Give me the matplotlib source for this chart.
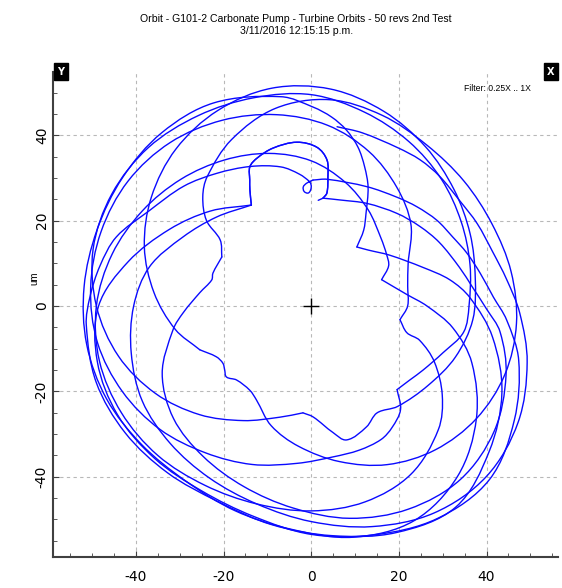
import numpy as np
import matplotlib
matplotlib.use('Agg')
import matplotlib.pyplot as plt
from matplotlib.path import Path
from matplotlib.patches import PathPatch
from matplotlib.ticker import MultipleLocator

plt.rcParams['font.family'] = ['DejaVu Sans']
plt.rcParams['axes.unicode_minus'] = False

# orbit trace, one revolution per list (clockwise),
# each point is (angle in degrees, radius in um)
rev_00 = [(82, 42.4), (74, 42.2), (62, 42.0), (54, 42.3), (46, 42.2), (36, 41.9), (27, 42.5),
          (17, 43.3), (8, 45.0), (-2, 47.6), (-15, 51.0), (-30, 54.5), (-45, 56.5), (-60, 56.0),
          (-75, 53.5), (-90, 50.5), (-105, 48.0), (-120, 46.5), (-135, 45.5), (-150, 44.5),
          (-165, 42.5), (-180, 40.5), (-194, 38.0), (-209, 33.4), (-224, 30.0), (-240, 27.3)]
bump = [(-240, 27.3), (-242.8, 30.6), (-244.6, 32.7), (-246.8, 35.5), (-250.5, 36.8),
        (-256.8, 38.0), (-265.1, 38.5), (-272, 37.2), (-276, 34.4), (-277.2, 30.4),
        (-277.7, 26.7), (-276.1, 25.4)]
rev_01 = [(-276.1, 25.4), (-285, 25.7), (-298, 27.2), (-312, 29.2), (-323, 31.0), (-333, 32.8),
          (-345, 35.0), (-353, 37.0), (-361, 40.0), (-368, 43.5), (-380, 47.3), (-395, 51.0),
          (-410, 53.0), (-425, 52.5), (-440, 50.5), (-455, 47.5), (-470, 45.0), (-485, 43.0),
          (-500, 41.0), (-515, 37.5), (-530, 32.0), (-537, 29.2), (-547, 25.6), (-555, 23.5),
          (-559, 23.7), (-569.4, 23.4)]
rev_02 = [(-569.4, 23.4), (-576.7, 25.9), (-580, 31.2), (-586, 35.6), (-592, 38.5), (-605, 43.0),
          (-620, 47.0), (-635, 48.5), (-650, 47.5), (-665, 46.0), (-680, 45.5), (-695, 45.5),
          (-710, 46.3), (-725, 47.0), (-740, 47.0), (-755, 46.0), (-770, 44.0), (-785, 41.0),
          (-800, 37.0), (-815, 33.0), (-828, 29.5), (-839.6, 25.3), (-845.4, 24.2),
          (-854.5, 24.3), (-859.3, 25.5), (-862.7, 24.8), (-866.3, 24.2), (-871.2, 24.7),
          (-878, 27.4)]
rev_03 = [(-878, 27.4), (-890, 31.5), (-905, 36.0), (-920, 40.5), (-935, 44.5), (-950, 48.0),
          (-965, 50.5), (-980, 51.8), (-995, 51.0), (-1010, 48.5), (-1025, 45.5), (-1040, 42.5),
          (-1055, 40.0), (-1070, 38.0), (-1085, 37.0), (-1100, 35.0), (-1115, 32.5),
          (-1130, 30.7), (-1139, 29.2), (-1146, 31.0), (-1155.5, 32.4), (-1160.4, 30.1),
          (-1169, 26.0), (-1174.3, 25.1)]
rev_04 = [(-1174.3, 25.1), (-1185.3, 27.0), (-1200, 31.0), (-1215, 36.0), (-1230, 41.0),
          (-1245, 45.5), (-1260, 49.0), (-1275, 51.5), (-1290, 52.5), (-1305, 52.5),
          (-1320, 51.5), (-1335, 50.5), (-1350, 49.5), (-1365, 47.0), (-1380, 44.5),
          (-1395, 42.0), (-1410, 39.5), (-1425, 37.5), (-1440, 36.0), (-1450, 35.3),
          (-1460, 32.0), (-1470.5, 29.6), (-1477.6, 28.4), (-1485, 27.7)]
rev_05 = [(-1485, 27.7), (-1490, 31.7), (-1497, 33.9), (-1503, 35.1), (-1512, 35.5),
          (-1522, 35.7), (-1535, 37.0), (-1550, 39.5), (-1565, 42.0), (-1580, 45.0),
          (-1595, 47.5), (-1610, 49.5), (-1625, 50.5), (-1640, 51.0), (-1655, 51.0),
          (-1670, 50.0), (-1685, 48.0), (-1700, 45.5), (-1715, 42.5), (-1730, 38.5),
          (-1745, 34.0), (-1760, 29.7), (-1776, 24.2), (-1788, 22.5), (-1800, 22.0),
          (-1809, 20.5)]
rev_06 = [(-1809, 20.5), (-1816, 22.7), (-1818, 26.0), (-1825, 31.0), (-1835, 36.5),
          (-1845, 41.0), (-1860, 45.5), (-1875, 47.5), (-1890, 48.0), (-1905, 48.0),
          (-1920, 48.5), (-1935, 49.5), (-1950, 50.0), (-1965, 50.0), (-1980, 49.0),
          (-1995, 47.0), (-2010, 44.5), (-2025, 42.0), (-2040, 39.5), (-2055, 37.0),
          (-2070, 34.0), (-2085, 30.0), (-2100, 26.0), (-2115, 22.5), (-2125, 21.0),
          (-2132, 20.0), (-2139, 17.2)]
rev_07 = [(-2139, 17.2), (-2153, 22.0), (-2160, 26.4), (-2169, 32.7), (-2180, 39.0),
          (-2195, 46.0), (-2210, 52.0), (-2225, 55.5), (-2240, 55.0), (-2255, 52.5),
          (-2270, 51.0), (-2285, 50.0), (-2300, 50.5), (-2315, 51.5), (-2330, 52.0),
          (-2345, 52.0), (-2360, 52.0), (-2375, 52.5), (-2390, 53.0), (-2405, 52.5),
          (-2422, 49.5), (-2430.5, 46.6), (-2436, 44.5), (-2441, 42.0), (-2446, 38.7),
          (-2450.5, 34.8), (-2455, 30.7), (-2460, 25.0), (-2464, 21.4), (-2467, 17.3)]
rev_08 = [(-2467, 17.3), (-2475, 18.5), (-2486.4, 21.5), (-2500.4, 27.0), (-2509, 32.2),
          (-2517, 36.3), (-2530, 42.0), (-2545, 48.0), (-2560, 53.0), (-2575, 57.5),
          (-2590, 56.5), (-2605, 54.0), (-2620, 52.0), (-2635, 50.5), (-2650, 51.0),
          (-2665, 51.8), (-2680, 52.2), (-2695, 51.5), (-2702.5, 50.5), (-2711, 49.1),
          (-2720, 47.3), (-2731, 43.2), (-2744, 40.4), (-2755.3, 37.8), (-2767, 35.5),
          (-2778, 33.3), (-2785, 31.0), (-2789.4, 29.0), (-2790, 27.8), (-2788.7, 26.5),
          (-2786.6, 26.85), (-2786.3, 27.96), (-2788, 28.8), (-2790.8, 29.5)]
rev_09 = [(-2790.8, 29.5), (-2797, 29.9), (-2814.5, 30.7), (-2827.4, 32.1), (-2836.1, 33.5),
          (-2845, 35.0), (-2853.4, 36.1), (-2860.7, 37.6), (-2868.7, 39.3), (-2877.1, 41.6),
          (-2884.2, 44.7), (-2895, 49.0), (-2910, 53.5), (-2925, 57.5), (-2940, 57.5),
          (-2955, 55.5), (-2970, 53.5), (-2985, 51.0), (-3000, 50.0), (-3015, 50.5),
          (-3030, 51.0), (-3045, 50.5), (-3060, 48.5), (-3074, 43.0), (-3089, 37.0),
          (-3104, 32.0), (-3120, 27.3)]
tail = [(-276.1, 25.4), (-273.7, 24.8)]

pieces = [rev_00, bump, rev_01, rev_02, rev_03, rev_04, rev_05, rev_06,
          rev_07, rev_08, rev_09, bump, tail]

major_ticks = [-40, -20, 0, 20, 40]
title = 'Orbit - G101-2 Carbonate Pump - Turbine Orbits - 50 revs 2nd Test\n3/11/2016 12:15:15 p.m.'


def orbit_path(piece):
    # polar -> cartesian, then a smooth bezier run through the read points
    a = np.array(piece, dtype=float)
    t = np.radians(a[:, 0])
    p = np.column_stack([a[:, 1] * np.cos(t), a[:, 1] * np.sin(t)])
    tang = np.zeros_like(p)
    if len(p) > 2:
        tang[1:-1] = p[2:] - p[:-2]
    tang[0] = p[1] - p[0]
    tang[-1] = p[-1] - p[-2]
    nrm = np.linalg.norm(tang, axis=1, keepdims=True)
    tang = tang / np.where(nrm == 0, 1, nrm)
    verts = [p[0]]
    codes = [Path.MOVETO]
    for i in range(len(p) - 1):
        d = np.linalg.norm(p[i + 1] - p[i]) / 3.0
        verts += [p[i] + tang[i] * d, p[i + 1] - tang[i + 1] * d, p[i + 1]]
        codes += [Path.CURVE4] * 3
    return Path(verts, codes)


fig = plt.figure(figsize=(5.62, 5.88), dpi=100)
ax = fig.add_axes([0.0943, 0.0527, 0.8986, 0.8248])

for piece in pieces:
    ax.add_patch(PathPatch(orbit_path(piece), fill=False, ec='#0a0aff', lw=1.0,
                           joinstyle='round', capstyle='round'))
ax.plot([0], [0], marker='+', color='black', ms=11, mew=1.0)

ax.set_xlim(-58.9, 56.3)
ax.set_ylim(-58.8, 54.8)
ax.set_xticks(major_ticks)
ax.set_yticks(major_ticks)
ax.xaxis.set_minor_locator(MultipleLocator(5))
ax.yaxis.set_minor_locator(MultipleLocator(5))
ax.grid(True, which='major', color='#b8b8b8', ls=(0, (3, 3)), lw=0.8)
ax.set_axisbelow(True)
ax.tick_params(which='both', direction='in', color='#404040')
ax.tick_params(which='major', length=4, labelsize=10)
ax.tick_params(which='minor', length=3)
ax.tick_params(axis='x', pad=9)
ax.tick_params(axis='y', pad=3)
for lbl in ax.get_yticklabels():
    lbl.set_rotation(90)
    lbl.set_va('center')
for s in ['top', 'right']:
    ax.spines[s].set_visible(False)
for s in ['left', 'bottom']:
    ax.spines[s].set_color('#404040')
    ax.spines[s].set_linewidth(1.5)

fig.text(0.527, 0.957, title, ha='center', va='center', fontsize=7.6,
         family='Liberation Sans', linespacing=1.3)
fig.text(0.062, 0.527, 'um', rotation=90, ha='center', va='center', fontsize=7,
         family='Liberation Sans')
fig.text(0.945, 0.849, 'Filter: 0.25X .. 1X', ha='right', va='center', fontsize=6.2,
         family='Liberation Sans')
fig.text(0.108, 0.878, 'Y', ha='center', va='center', color='white', fontsize=7,
         weight='bold', bbox=dict(boxstyle='square,pad=0.35', fc='black', ec='black'))
fig.text(0.980, 0.878, 'X', ha='center', va='center', color='white', fontsize=7,
         weight='bold', bbox=dict(boxstyle='square,pad=0.35', fc='black', ec='black'))

fig.savefig('out.png', dpi=100)
